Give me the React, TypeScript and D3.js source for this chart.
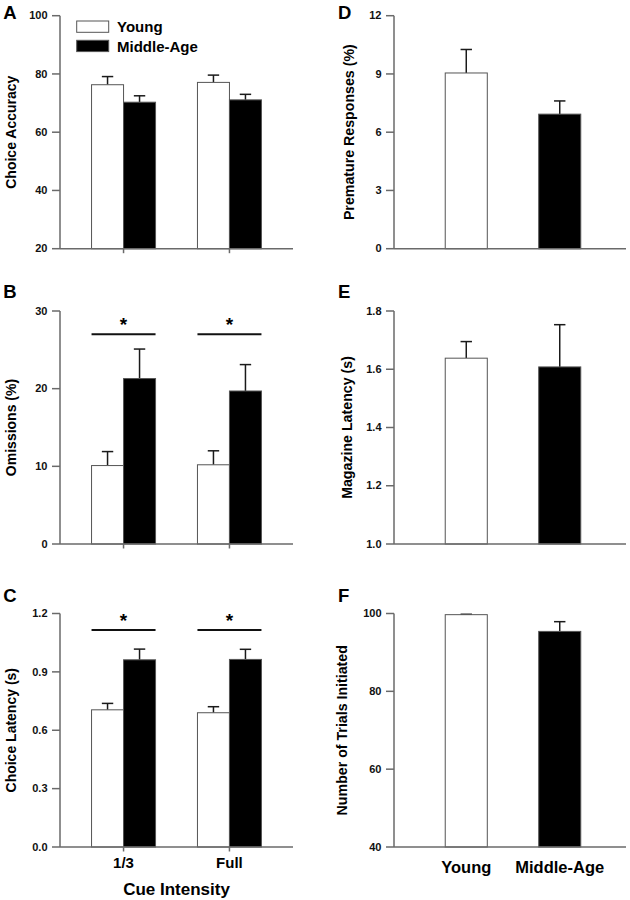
import React from "react";
import * as d3 from "d3";

// ---------- Data ----------
const cueLevels = ["1/3", "Full"];
const ageGroups = ["Young", "Middle-Age"];

const accuracyYoung = [76.3, 77.1];
const accuracyYoungErr = [2.8, 2.5];
const accuracyMiddle = [70.3, 71.1];
const accuracyMiddleErr = [2.2, 1.9];
const accuracyTicks = [20, 40, 60, 80, 100];

const omissionsYoung = [10.1, 10.2];
const omissionsYoungErr = [1.8, 1.8];
const omissionsMiddle = [21.3, 19.7];
const omissionsMiddleErr = [3.8, 3.4];
const omissionsTicks = [0, 10, 20, 30];
const omissionsSigLevel = 27;

const choiceLatYoung = [0.705, 0.69];
const choiceLatYoungErr = [0.033, 0.031];
const choiceLatMiddle = [0.962, 0.964];
const choiceLatMiddleErr = [0.055, 0.052];
const choiceLatTicks = [0, 0.3, 0.6, 0.9, 1.2];
const choiceLatSigLevel = 1.115;

const premature = [9.05, 6.93];
const prematureErr = [1.21, 0.68];
const prematureTicks = [0, 3, 6, 9, 12];

const magazine = [1.638, 1.608];
const magazineErr = [0.057, 0.145];
const magazineTicks = [1.0, 1.2, 1.4, 1.6, 1.8];

const trials = [99.7, 95.4];
const trialsErr = [0.1, 2.5];
const trialsTicks = [40, 60, 80, 100];

// ---------- Styling ----------
const FONT = "'Liberation Sans', Arial, Helvetica, sans-serif";
const AXIS = "#6a6a6a";
const rows = [
  { top: 15.7, bottom: 248.7, letterY: 19 },
  { top: 311, bottom: 544, letterY: 298 },
  { top: 613.5, bottom: 847, letterY: 601.7 },
];

type Panel = {
  letter: string;
  title: string;
  ticks: number[];
  fmt: (v: number) => string;
  young: number[];
  youngErr: number[];
  middle: number[];
  middleErr: number[];
  sig: number | null;
};

const leftPanels: Panel[] = [
  { letter: "A", title: "Choice Accuracy", ticks: accuracyTicks, fmt: d3.format("d"), young: accuracyYoung, youngErr: accuracyYoungErr, middle: accuracyMiddle, middleErr: accuracyMiddleErr, sig: null },
  { letter: "B", title: "Omissions (%)", ticks: omissionsTicks, fmt: d3.format("d"), young: omissionsYoung, youngErr: omissionsYoungErr, middle: omissionsMiddle, middleErr: omissionsMiddleErr, sig: omissionsSigLevel },
  { letter: "C", title: "Choice Latency (s)", ticks: choiceLatTicks, fmt: d3.format(".1f"), young: choiceLatYoung, youngErr: choiceLatYoungErr, middle: choiceLatMiddle, middleErr: choiceLatMiddleErr, sig: choiceLatSigLevel },
];

type RPanel = {
  letter: string;
  title: string;
  ticks: number[];
  fmt: (v: number) => string;
  values: number[];
  errs: number[];
  titleX: number;
};

const rightPanels: RPanel[] = [
  { letter: "D", title: "Premature Responses (%)", ticks: prematureTicks, fmt: d3.format("d"), values: premature, errs: prematureErr, titleX: 354 },
  { letter: "E", title: "Magazine Latency (s)", ticks: magazineTicks, fmt: d3.format(".1f"), values: magazine, errs: magazineErr, titleX: 351.5 },
  { letter: "F", title: "Number of Trials Initiated", ticks: trialsTicks, fmt: d3.format("d"), values: trials, errs: trialsErr, titleX: 347 },
];

function YAxis({ x, y, ticks, fmt }: { x: number; y: d3.ScaleLinear<number, number>; ticks: number[]; fmt: (v: number) => string }) {
  const [lo, hi] = y.domain();
  return (
    <g>
      <line x1={x} x2={x} y1={y(hi)} y2={y(lo)} stroke={AXIS} strokeWidth={1.5} />
      {ticks.map((t) => (
        <g key={t}>
          <line x1={x - 8} x2={x} y1={y(t)} y2={y(t)} stroke={AXIS} strokeWidth={1.5} />
          <text x={x - 12.5} y={y(t)} dy="0.34em" textAnchor="end" fontFamily={FONT} fontWeight="bold" fontSize={11} fill="#111">
            {fmt(t)}
          </text>
        </g>
      ))}
    </g>
  );
}

function ErrBar({ cx, yTop, yErr }: { cx: number; yTop: number; yErr: number }) {
  return (
    <g stroke="#1a1a1a" strokeWidth={1.5}>
      <line x1={cx} x2={cx} y1={yTop} y2={yErr} />
      <line x1={cx - 5.7} x2={cx + 5.7} y1={yErr} y2={yErr} />
    </g>
  );
}

function LeftPanel({ p, row, showX }: { p: Panel; row: typeof rows[0]; showX: boolean }) {
  const x0 = 60;
  const x1 = 293;
  const y = d3.scaleLinear().domain([p.ticks[0], p.ticks[p.ticks.length - 1]]).range([row.bottom, row.top]);
  const xc = d3.scalePoint<string>().domain(cueLevels).range([x0, x1]).padding(0.6);
  const inner = d3.scaleBand<string>().domain(ageGroups).range([-32, 32]);
  const bw = inner.bandwidth();
  const series = [
    { g: ageGroups[0], vals: p.young, errs: p.youngErr, fill: "#fff" },
    { g: ageGroups[1], vals: p.middle, errs: p.middleErr, fill: "#000" },
  ];
  const cy = (row.top + row.bottom) / 2;
  return (
    <g>
      <text x={3.3} y={row.letterY} fontFamily={FONT} fontWeight="bold" fontSize={18.5} fill="#000">
        {p.letter}
      </text>
      <text transform={`translate(15.5,${cy}) rotate(-90)`} textAnchor="middle" fontFamily={FONT} fontWeight="bold" fontSize={14} fill="#000">
        {p.title}
      </text>
      {series.map((s) =>
        cueLevels.map((c, i) => {
          const bx = (xc(c) as number) + (inner(s.g) as number);
          const top = y(s.vals[i]);
          return (
            <g key={s.g + c}>
              <ErrBar cx={bx + bw / 2} yTop={top} yErr={y(s.vals[i] + s.errs[i])} />
              <rect x={bx} y={top} width={bw} height={row.bottom - top} fill={s.fill} stroke="#555" strokeWidth={1} />
            </g>
          );
        })
      )}
      {p.sig !== null &&
        cueLevels.map((c) => {
          const cx = xc(c) as number;
          const ly = y(p.sig as number);
          return (
            <g key={"sig" + c}>
              <line x1={cx + (inner(ageGroups[0]) as number)} x2={cx + (inner(ageGroups[1]) as number) + bw} y1={ly} y2={ly} stroke="#111" strokeWidth={2} />
              <text x={cx} y={ly - 3.5} textAnchor="middle" fontFamily={FONT} fontWeight="bold" fontSize={19} fill="#000">
                *
              </text>
            </g>
          );
        })}
      <YAxis x={x0} y={y} ticks={p.ticks} fmt={p.fmt} />
      <line x1={x0} x2={x1} y1={row.bottom} y2={row.bottom} stroke={AXIS} strokeWidth={1.5} />
      {cueLevels.map((c) => (
        <line key={"xt" + c} x1={xc(c) as number} x2={xc(c) as number} y1={row.bottom} y2={row.bottom + 4.5} stroke={AXIS} strokeWidth={1.5} />
      ))}
      {showX && (
        <g>
          {cueLevels.map((c) => (
            <text key={"xl" + c} x={xc(c) as number} y={868} textAnchor="middle" fontFamily={FONT} fontWeight="bold" fontSize={15} fill="#000">
              {c}
            </text>
          ))}
          <text x={(x0 + x1) / 2} y={895} textAnchor="middle" fontFamily={FONT} fontWeight="bold" fontSize={17} fill="#000">
            Cue Intensity
          </text>
        </g>
      )}
    </g>
  );
}

function RightPanel({ p, row, showX }: { p: RPanel; row: typeof rows[0]; showX: boolean }) {
  const x0 = 394;
  const x1 = 626;
  const y = d3.scaleLinear().domain([p.ticks[0], p.ticks[p.ticks.length - 1]]).range([row.bottom, row.top]);
  const xb = d3.scaleBand<string>().domain(ageGroups).range([x0 + 26, x1 - 20]).paddingInner(0.55).paddingOuter(0.27);
  const bw = xb.bandwidth();
  const fills = ["#fff", "#000"];
  const cy = (row.top + row.bottom) / 2;
  return (
    <g>
      <text x={338} y={row.letterY} fontFamily={FONT} fontWeight="bold" fontSize={18.5} fill="#000">
        {p.letter}
      </text>
      <text transform={`translate(${p.titleX},${cy}) rotate(-90)`} textAnchor="middle" fontFamily={FONT} fontWeight="bold" fontSize={14.2} fill="#000">
        {p.title}
      </text>
      {ageGroups.map((g, i) => {
        const bx = xb(g) as number;
        const top = y(p.values[i]);
        return (
          <g key={g}>
            <ErrBar cx={bx + bw / 2} yTop={top} yErr={y(p.values[i] + p.errs[i])} />
            <rect x={bx} y={top} width={bw} height={row.bottom - top} fill={fills[i]} stroke="#555" strokeWidth={1} />
          </g>
        );
      })}
      <YAxis x={x0} y={y} ticks={p.ticks} fmt={p.fmt} />
      <line x1={x0} x2={x1} y1={row.bottom} y2={row.bottom} stroke={AXIS} strokeWidth={1.5} />
      {showX &&
        ageGroups.map((g) => (
          <text key={"xl" + g} x={(xb(g) as number) + bw / 2} y={873} textAnchor="middle" fontFamily={FONT} fontWeight="bold" fontSize={16.5} fill="#000">
            {g}
          </text>
        ))}
    </g>
  );
}

export default function App() {
  return (
    <svg width={630} height={900} viewBox="0 0 630 900" style={{ position: "absolute", left: 0, top: 0, background: "#fff" }}>
      <rect x={0} y={0} width={630} height={900} fill="#fff" />
      {leftPanels.map((p, i) => (
        <LeftPanel key={p.letter} p={p} row={rows[i]} showX={i === 2} />
      ))}
      {rightPanels.map((p, i) => (
        <RightPanel key={p.letter} p={p} row={rows[i]} showX={i === 2} />
      ))}
      {/* Legend */}
      <g>
        <rect x={76.7} y={21} width={32} height={11.3} fill="#fff" stroke="#555" strokeWidth={1} />
        <rect x={76.7} y={40.3} width={32} height={11.3} fill="#000" stroke="#555" strokeWidth={1} />
        <text x={117} y={32.3} fontFamily={FONT} fontWeight="bold" fontSize={15} fill="#000">
          {ageGroups[0]}
        </text>
        <text x={117} y={51.7} fontFamily={FONT} fontWeight="bold" fontSize={15} fill="#000">
          {ageGroups[1]}
        </text>
      </g>
    </svg>
  );
}
